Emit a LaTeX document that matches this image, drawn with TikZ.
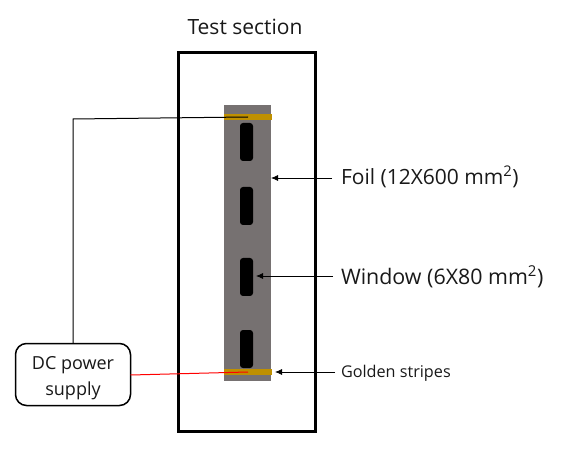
\documentclass[tikz,border=0pt]{standalone}
\usepackage{fontspec}
\setmainfont{Open Sans}
\usetikzlibrary{arrows.meta}
\definecolor{foilgrey}{RGB}{118,113,113}
\definecolor{golden}{RGB}{191,144,0}
\definecolor{txt}{RGB}{25,25,25}
\tikzset{
  x=1pt,y=-1pt,
  foilbar/.style={fill=foilgrey,draw=none,minimum width=47pt,minimum height=276pt,inner sep=0pt,outer sep=0pt},
  goldbar/.style={fill=golden,draw=none,minimum width=48pt,minimum height=6pt,inner sep=0pt,outer sep=0pt},
  slot/.style={fill=black,draw=none,rounded corners=3pt,minimum width=13pt,minimum height=38pt,inner sep=0pt,outer sep=0pt},
  sectionbox/.style={draw=black,line width=3pt,minimum width=137pt,minimum height=379pt,inner sep=0pt,outer sep=0pt},
  supply/.style={draw=black,fill=white,line width=1.5pt,rounded corners=11pt,minimum width=115pt,minimum height=62pt,inner sep=0pt,outer sep=0pt,align=center,font=\fontsize{18}{26}\selectfont,text=txt},
  label/.style={anchor=west,inner sep=0pt,outer sep=0pt,text=txt},
  pointer/.style={draw=black,line width=0.8pt,-{Latex[length=7pt,width=6pt]}},
  wire/.style={draw=black,line width=1pt},
}
\begin{document}
\begin{tikzpicture}
\useasboundingbox (0,0) rectangle (562,454);
\node[sectionbox] (section) at (246.5,242) {};
\node[foilbar] (foil) at (247.5,243) {};
\node[goldbar] (goldtop) at (248,117) {};
\node[goldbar] (goldbot) at (248,372) {};
\node[slot] (w1) at (246.5,142) {};
\node[slot] (w2) at (246.5,206) {};
\node[slot] (w3) at (246.5,277) {};
\node[slot] (w4) at (246.5,349) {};
\node[supply] (dc) at (73,374.5) {\rule{0pt}{20pt}DC power\\supply};
\node[anchor=base,inner sep=0pt,font=\fontsize{21}{26}\selectfont,text=txt] (title) at (245,35) {Test section};
\node[label,font=\fontsize{21}{25}\selectfont] (lfoil) at (341,177) {Foil (12X600 mm\textsuperscript{2})};
\node[label,font=\fontsize{21.4}{25}\selectfont] (lwin) at (341,277) {Window (6X80 mm\textsuperscript{2})};
\node[label,font=\fontsize{16.2}{20}\selectfont] (lgold) at (341,373.5) {Golden stripes};
\coordinate (corner) at (73,119);
\draw[wire] (corner |- dc.north) -- (corner) -- (goldtop.center);
\draw[draw=red,line width=1pt] (dc.east |- 0,375) -- (goldbot.center);
\draw[pointer] (lfoil.west) ++(-9,1) -- (foil.east |- 0,178);
\draw[pointer,shorten >=3pt] (lwin.west) ++(-8,-1) -- (w3.east |- 0,276);
\draw[pointer,shorten >=3pt] (lgold.west) ++(-6,-1.5) -- (goldbot.east);
\end{tikzpicture}
\end{document}
